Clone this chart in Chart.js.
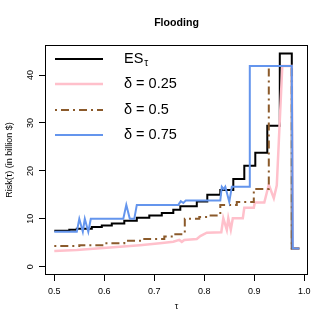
<!DOCTYPE html>
<html>
<head>
<meta charset="utf-8">
<script src="https://cdn.jsdelivr.net/npm/chart.js@4.4.0/dist/chart.umd.min.js"></script>
<style>
html, body { margin: 0; padding: 0; background: #fff; }
</style>
</head>
<body>
<canvas id="myChart" width="332" height="332"></canvas>
<script>
// tick labels
const xTicks = [0.5, 0.6, 0.7, 0.8, 0.9, 1.0];
const yTicks = [0, 10, 20, 30, 40];

// ES_tau (step line)
const tauES = [0.500, 0.530, 0.545, 0.575, 0.595, 0.615, 0.640, 0.665, 0.690, 0.715, 0.738, 0.752, 0.785, 0.806, 0.832, 0.858, 0.880, 0.902, 0.926, 0.951, 0.975, 0.990];
const valES = [7.5, 7.7, 7.9, 8.3, 8.6, 9.0, 9.6, 10.2, 10.7, 11.2, 11.9, 12.6, 13.6, 15.0, 16.0, 18.3, 21.1, 23.8, 29.4, 44.5, 3.8, 3.8];

// delta = 0.25
const tauD25 = [0.500, 0.545, 0.591, 0.638, 0.671, 0.711, 0.738, 0.750, 0.755, 0.760, 0.785, 0.792, 0.805, 0.834, 0.838, 0.845, 0.848, 0.853, 0.857, 0.877, 0.880, 0.899, 0.901, 0.920, 0.929, 0.939, 0.945, 0.956, 0.975, 0.977, 0.990];
const valD25 = [3.3, 3.5, 3.85, 4.2, 4.5, 4.9, 5.2, 5.6, 5.2, 5.6, 5.8, 6.4, 7.1, 7.2, 10.1, 7.7, 10.1, 7.7, 10.1, 10.1, 12.3, 12.3, 13.4, 13.4, 17.1, 14.3, 17.0, 41.9, 41.9, 3.8, 3.8];

// delta = 0.5 (step line)
const tauD50 = [0.500, 0.550, 0.600, 0.640, 0.680, 0.720, 0.740, 0.761, 0.790, 0.810, 0.832, 0.865, 0.899, 0.929, 0.975, 0.990];
const valD50 = [4.3, 4.5, 4.9, 5.4, 5.8, 6.3, 6.8, 10.0, 10.4, 10.7, 12.9, 13.5, 16.2, 41.9, 3.8, 3.8];

// delta = 0.75
const tauD75 = [0.500, 0.545, 0.550, 0.557, 0.561, 0.568, 0.573, 0.638, 0.644, 0.651, 0.660, 0.665, 0.748, 0.753, 0.758, 0.763, 0.832, 0.835, 0.839, 0.842, 0.850, 0.855, 0.890, 0.891, 0.975, 0.977, 0.990];
const valD75 = [7.3, 7.3, 10.0, 7.3, 10.0, 7.3, 10.0, 10.0, 12.9, 10.0, 10.0, 12.9, 12.9, 13.7, 13.3, 13.8, 13.8, 16.7, 16.2, 16.7, 13.5, 16.7, 16.7, 41.9, 41.9, 3.8, 3.8];

const FONT = '"Liberation Sans", Arial, Helvetica, sans-serif';

function pts(xs, ys) {
    return xs.map(function (t, i) { return { x: t, y: ys[i] }; });
}

// order: later series are drawn on top, as in R
const series = [
    { label: 'ES', sub: '\u03c4', color: '#000000', width: 2, dash: [], stepped: 'before', tau: tauES, val: valES },
    { label: '\u03b4 = 0.25', color: '#FFC0CB', width: 2.5, dash: [], stepped: false, tau: tauD25, val: valD25 },
    { label: '\u03b4 = 0.5', color: '#8B5A2B', width: 2, dash: [2, 4, 8, 4], stepped: 'before', tau: tauD50, val: valD50 },
    { label: '\u03b4 = 0.75', color: '#6495ED', width: 2, dash: [], stepped: false, tau: tauD75, val: valD75 }
];

// box, titles and legend in R style
const rDecor = {
    id: 'rDecor',
    afterDraw: function (chart) {
        const c = chart.ctx;
        const a = chart.chartArea;
        c.save();
        c.strokeStyle = '#000';
        c.lineWidth = 1;
        c.strokeRect(a.left + 0.5, a.top + 0.5, a.right - a.left - 1, a.bottom - a.top - 1);

        c.fillStyle = '#000';
        c.textAlign = 'center';
        c.textBaseline = 'middle';
        c.font = 'bold 10.6px ' + FONT;
        c.fillText('Flooding', (a.left + a.right) / 2, 23);
        c.font = '9px ' + FONT;
        c.fillText('\u03c4', (a.left + a.right) / 2, 307);
        c.save();
        c.translate(10, (a.top + a.bottom) / 2);
        c.rotate(-Math.PI / 2);
        c.fillText('Risk(\u03c4) (in billion $)', 0, 0);
        c.restore();

        // legend
        const rows = [59, 84, 110, 135];
        series.forEach(function (s, i) {
            const y = rows[i];
            c.beginPath();
            c.strokeStyle = s.color;
            c.lineWidth = s.width;
            c.setLineDash(s.dash);
            c.moveTo(55, y);
            c.lineTo(103, y);
            c.stroke();
            c.setLineDash([]);
            c.fillStyle = '#000';
            c.textAlign = 'left';
            c.textBaseline = 'middle';
            c.font = '14.5px ' + FONT;
            c.fillText(s.label, 124, y);
            if (s.sub) {
                const w = c.measureText(s.label).width;
                c.font = '10px ' + FONT;
                c.fillText(s.sub, 124 + w + 1, y + 4);
            }
        });
        c.restore();
    }
};

const ctx = document.getElementById('myChart').getContext('2d');
const myChart = new Chart(ctx, {
    type: 'line',
    data: {
        datasets: series.map(function (s, i) {
            return {
                label: s.label,
                data: pts(s.tau, s.val),
                borderColor: s.color,
                borderWidth: s.width,
                borderDash: s.dash,
                stepped: s.stepped,
                order: series.length - i,
                pointRadius: 0,
                tension: 0,
                fill: false
            };
        })
    },
    options: {
        responsive: false,
        animation: false,
        devicePixelRatio: 1,
        layout: { padding: { left: 0, top: 45, right: 24, bottom: 0 } },
        plugins: {
            legend: { display: false },
            tooltip: { enabled: false }
        },
        scales: {
            x: {
                type: 'linear',
                min: 0.4814,
                max: 1.0074,
                afterBuildTicks: function (s) { s.ticks = xTicks.map(function (v) { return { value: v }; }); },
                afterFit: function (s) { s.height = 57; },
                grid: { display: true, drawOnChartArea: false, drawTicks: true, tickLength: 6, color: '#000' },
                border: { display: false },
                ticks: {
                    autoSkip: false,
                    maxRotation: 0,
                    padding: 5,
                    color: '#000',
                    font: { family: FONT, size: 9 },
                    callback: function (v) { return v.toFixed(1); }
                }
            },
            y: {
                type: 'linear',
                min: -1.73,
                max: 46.28,
                afterBuildTicks: function (s) { s.ticks = yTicks.map(function (v) { return { value: v }; }); },
                afterFit: function (s) { s.width = 45; },
                grid: { display: true, drawOnChartArea: false, drawTicks: true, tickLength: 6, color: '#000' },
                border: { display: false },
                ticks: {
                    autoSkip: false,
                    minRotation: 90,
                    maxRotation: 90,
                    crossAlign: 'center',
                    padding: 3.5,
                    color: '#000',
                    font: { family: FONT, size: 9 },
                    callback: function (v) { return String(v); }
                }
            }
        }
    },
    plugins: [rDecor]
});
</script>
</body>
</html>
